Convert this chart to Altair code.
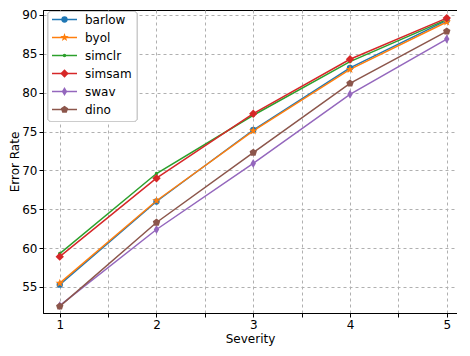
import altair as alt
import pandas as pd

severity = [1, 2, 3, 4, 5]
names = ["barlow", "byol", "simclr", "simsam", "swav", "dino"]
barlow = [55.3, 66.0, 75.2, 83.2, 89.3]
byol = [55.5, 66.1, 75.1, 83.0, 89.1]
simclr = [59.3, 69.6, 77.1, 84.0, 89.4]
simsam = [58.9, 69.0, 77.3, 84.3, 89.6]
swav = [52.6, 62.4, 70.9, 79.8, 86.9]
dino = [52.5, 63.3, 72.3, 81.2, 87.9]
series = [barlow, byol, simclr, simsam, swav, dino]

colors = ["#1f77b4", "#ff7f0e", "#2ca02c", "#d62728", "#9467bd", "#8c564b"]
star = "M0,-1L0.235,-0.324L0.951,-0.309L0.380,0.124L0.588,0.809L0,0.4L-0.588,0.809L-0.380,0.124L-0.951,-0.309L-0.235,-0.324Z"
pent = "M0,-1L0.951,-0.309L0.588,0.809L-0.588,0.809L-0.951,-0.309Z"
thin_d = "M0,-1L0.6,0L0,1L-0.6,0Z"
shapes = ["circle", star, "circle", "diamond", thin_d, pent]
sizes = [40, 80, 12, 70, 80, 60]

rows = []
for n, vals in zip(names, series):
    for s, v in zip(severity, vals):
        rows.append({"name": n, "severity": s, "err": v, "order": names.index(n)})
df = pd.DataFrame(rows)
leg = pd.DataFrame({"name": names})

FONT = "DejaVu Sans"
FS = 12
color = alt.Color("name:N", scale=alt.Scale(domain=names, range=colors), legend=None)

common = dict(tickSize=4, tickColor="black", domainColor="black",
              labelFont=FONT, titleFont=FONT, labelFontSize=FS,
              titleFontSize=FS, titleFontWeight="normal",
              labelColor="black", titleColor="black",
              grid=True, gridDash=[3, 3], gridColor="#b0b0b0")
xenc = alt.X("severity:Q", title="Severity",
             scale=alt.Scale(domain=[0.827, 5.106], nice=False, zero=False),
             axis=alt.Axis(values=[1, 1.5, 2, 2.5, 3, 3.5, 4, 4.5, 5],
                           labelExpr="datum.value % 1 === 0 ? format(datum.value, 'd') : ''",
                           labelPadding=2, titlePadding=3, **common))
yenc = alt.Y("err:Q", title="Error Rate",
             scale=alt.Scale(domain=[51.654, 90.643], nice=False, zero=False),
             axis=alt.Axis(values=[55, 60, 65, 70, 75, 80, 85, 90],
                           labelPadding=2, titlePadding=0, **common))

base = alt.Chart(df)
layers = [base.mark_line(strokeWidth=1.5).encode(x=xenc, y=yenc, color=color, detail="name:N", order="order:Q")]
for n, shp, sz in zip(names, shapes, sizes):
    layers.append(base.transform_filter(alt.datum.name == n).mark_point(
        filled=True, opacity=1, shape=shp, size=sz).encode(x="severity:Q", y="err:Q", color=color))
main = alt.layer(*layers)

ly = alt.Y("name:N", scale=alt.Scale(type="point", domain=names, range=[9.5, 99.5], padding=0), axis=None)
lb = alt.Chart(leg)
legend_layers = [
    lb.mark_rect(fill="white", fillOpacity=0.85, stroke="#cccccc", strokeWidth=1, cornerRadius=3).encode(
        x=alt.value(5), x2=alt.value(94), y=alt.value(1.5), y2=alt.value(111.5)),
    lb.mark_rule(strokeWidth=1.5).encode(x=alt.value(9), x2=alt.value(34), y=ly, color=color),
]
for n, shp, sz in zip(names, shapes, sizes):
    legend_layers.append(lb.transform_filter(alt.datum.name == n).mark_point(
        filled=True, opacity=1, shape=shp, size=sz).encode(x=alt.value(21.5), y=ly, color=color))
legend_layers.append(lb.mark_text(align="left", baseline="middle", font=FONT, fontSize=FS, color="black").encode(
    x=alt.value(42), y=ly, text="name:N"))
legend = alt.layer(*legend_layers)

chart = alt.layer(main, legend).resolve_scale(y="independent").properties(
    width=414, height=303,
    padding={"left": 0, "top": 0, "right": 0, "bottom": 3},
).configure_view(stroke="black", strokeWidth=1)

chart.save("out.html", embed_options={"renderer": "svg", "actions": False})
